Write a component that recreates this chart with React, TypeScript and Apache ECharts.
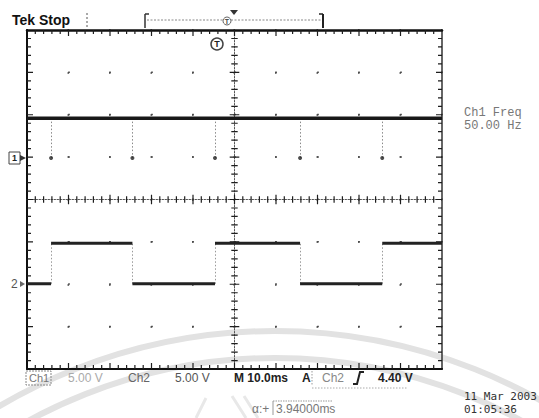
import React, { useEffect, useRef } from "react";
import * as echarts from "echarts";

// Horizontal scale: time in ms relative to screen centre, 10 ms / div, 5 minor ticks / div
const timeMin = -50;
const timeMax = 50;
const timeStep = 10;
const timeMinorStep = 2;
// Vertical scale: screen divisions
const divMin = -4;
const divMax = 4;
const divStep = 1;
const divMinorStep = 0.2;

// Ch1: flat trace with narrow negative pulses
const ch1Level = 1.92;
const ch1SpikeLevel = 0.98;
// Edge / pulse times (ms)
const edgeTimes = [-44.2, -24.6, -4.7, 15.8, 35.6];
// Ch2: square wave levels for each segment between edges
const ch2Low = -1.99;
const ch2High = -1.03;
const ch2SegmentLevels = [ch2Low, ch2High, ch2Low, ch2High, ch2Low, ch2High];

// Readout texts
const titleText = "Tek Stop";
const freqLabel = "Ch1 Freq";
const freqValue = "50.00 Hz";
const ch1Scale = "5.00 V";
const ch2Scale = "5.00 V";
const timebase = "M 10.0ms";
const trigLevel = "4.40 V";
const cursorLabel = "α:+";
const cursorValue = "3.94000ms";
const dateText = "11 Mar 2003";
const timeText = "01:05:36";

const ch1Data: any[] = [
  [timeMin, ch1Level],
  [timeMax, ch1Level],
];
const bounds = [timeMin, ...edgeTimes, timeMax];
const ch2Data: any[] = [];
ch2SegmentLevels.forEach((lv, i) => {
  ch2Data.push([bounds[i], lv], [bounds[i + 1], lv]);
  if (i < ch2SegmentLevels.length - 1) ch2Data.push([bounds[i + 1], "-"]);
});
const spikeDots = edgeTimes.map((t) => [t, ch1SpikeLevel]);

// graticule ruling (scope screen) — tick lengths in axis units
const GRID = { left: 27, top: 30, width: 415, height: 339 };
const pxPerMs = GRID.width / (timeMax - timeMin);
const pxPerDiv = GRID.height / (divMax - divMin);
const rulingData: any[] = [];
const addSeg = (a: number[], b: number[]) => {
  rulingData.push(a, b, [a[0], "-"]);
};
for (let i = 1; i < Math.round((timeMax - timeMin) / timeMinorStep); i++) {
  const v = timeMin + i * timeMinorStep;
  const L = (i % 5 === 0 ? 6 : 4) / pxPerDiv;
  addSeg([v, divMax], [v, divMax - L]);
  addSeg([v, divMin], [v, divMin + L]);
  addSeg([v, -L * 0.8], [v, L * 0.8]);
}
for (let i = 1; i < Math.round((divMax - divMin) / divMinorStep); i++) {
  const v = +(divMin + i * divMinorStep).toFixed(2);
  const L = (i % 5 === 0 ? 6 : 4) / pxPerMs;
  addSeg([timeMin, v], [timeMin + L, v]);
  addSeg([timeMax, v], [timeMax - L, v]);
  addSeg([-L * 0.8, v], [L * 0.8, v]);
}

const borderLine = { color: "#111", width: 2 };
const centerLine = { color: "#555", width: 1, type: [1.5, 1.5] as any };

function axis(min: number, max: number, interval: number, position: string, opts: { line: any; onZero?: boolean; split?: any }) {
  return {
    type: "value",
    min,
    max,
    interval,
    position,
    axisLine: { show: true, onZero: !!opts.onZero, onZeroAxisIndex: 0, lineStyle: opts.line },
    axisTick: { show: false },
    axisLabel: { show: false },
    splitLine: opts.split ? { show: true, lineStyle: opts.split } : { show: false },
  };
}

const txt = (text: string, x: number, y: number, font: string, fill: string, extra: any = {}) => ({
  type: "text",
  x,
  y,
  z: 20,
  silent: true,
  style: { text, font, fill, verticalAlign: "middle", textVerticalAlign: "middle", ...extra },
});
const ln = (x1: number, y1: number, x2: number, y2: number, stroke: string, lineWidth = 1, lineDash?: number[]) => ({
  type: "line",
  z: 20,
  silent: true,
  shape: { x1, y1, x2, y2 },
  style: { stroke, lineWidth, lineDash },
});

const graphics: any[] = [
  // watermark arcs
  { type: "arc", z: -5, silent: true, shape: { cx: 275, cy: 873, r: 542, startAngle: Math.PI, endAngle: Math.PI * 2 }, style: { stroke: "#e2e2e2", lineWidth: 6, fill: "none" } },
  { type: "arc", z: -5, silent: true, shape: { cx: 275, cy: 873, r: 515, startAngle: Math.PI, endAngle: Math.PI * 2 }, style: { stroke: "#e2e2e2", lineWidth: 6, fill: "none" } },
  { type: "line", z: -5, silent: true, shape: { x1: 196, y1: 418, x2: 206, y2: 398 }, style: { stroke: "#e8e8e8", lineWidth: 3 } },
  { type: "line", z: -5, silent: true, shape: { x1: 232, y1: 396, x2: 246, y2: 418 }, style: { stroke: "#e8e8e8", lineWidth: 3 } },
  { type: "line", z: -5, silent: true, shape: { x1: 244, y1: 396, x2: 258, y2: 418 }, style: { stroke: "#e8e8e8", lineWidth: 3 } },

  // header
  txt(titleText, 12, 20, 'bold 14px "Liberation Sans"', "#111"),
  ln(87, 13, 87, 29, "#555", 1, [2, 2]),
  ln(145, 14, 145, 28, "#333", 1.5),
  ln(145, 14, 149, 14, "#333", 1.5),
  ln(147, 20, 322, 20, "#888", 1, [2, 1.5]),
  ln(323, 14, 323, 28, "#222", 2),
  ln(319, 14, 323, 14, "#222", 1.5),
  { type: "circle", z: 20, silent: true, shape: { cx: 227, cy: 21, r: 4 }, style: { stroke: "#666", lineWidth: 1, fill: "#fff" } },
  txt("T", 227, 21, 'bold 7px "Liberation Sans"', "#444", { align: "center", textAlign: "center" }),
  { type: "polygon", z: 20, silent: true, shape: { points: [[230, 10], [238, 10], [234, 15]] }, style: { fill: "#333" } },
  { type: "circle", z: 20, silent: true, shape: { cx: 217, cy: 44, r: 6 }, style: { stroke: "#444", lineWidth: 1.5, fill: "#fff" } },
  txt("T", 217, 44, 'bold 9px "Liberation Sans"', "#222", { align: "center", textAlign: "center" }),

  // channel markers
  { type: "rect", z: 20, silent: true, shape: { x: 9, y: 152, width: 11, height: 12 }, style: { stroke: "#444", lineWidth: 1, fill: "#fff" } },
  txt("1", 14.5, 158, 'bold 9px "Liberation Sans"', "#222", { align: "center", textAlign: "center" }),
  { type: "polygon", z: 20, silent: true, shape: { points: [[20, 155], [26, 158], [20, 161]] }, style: { fill: "#333" } },
  txt("2", 11, 284, '12px "Liberation Sans"', "#555"),
  { type: "polygon", z: 20, silent: true, shape: { points: [[20, 281], [25, 284], [20, 287]] }, style: { fill: "#666" } },

  // right readout
  txt(freqLabel, 464, 113, '12px "Liberation Mono"', "#777"),
  txt(freqValue, 464, 126, '12px "Liberation Mono"', "#777"),

  // bottom readout
  { type: "rect", z: 20, silent: true, shape: { x: 26, y: 371, width: 25, height: 14 }, style: { stroke: "#888", lineWidth: 1, lineDash: [2, 1], fill: "none" } },
  txt("Ch1", 29, 378, '11px "Liberation Sans"', "#777"),
  txt(ch1Scale, 68, 378, '12px "Liberation Sans"', "#aaa"),
  txt("Ch2", 128, 378, '12px "Liberation Sans"', "#666"),
  txt(ch2Scale, 175, 378, '12px "Liberation Sans"', "#555"),
  txt(timebase, 234, 378, 'bold 12px "Liberation Sans"', "#222"),
  txt("A", 302, 378, 'bold 12px "Liberation Sans"', "#222"),
  ln(312, 371, 312, 386, "#999", 1, [1.5, 1.5]),
  txt("Ch2", 322, 378, '12px "Liberation Sans"', "#888"),
  { type: "polyline", z: 20, silent: true, shape: { points: [[353, 384], [357, 384], [360, 372], [364, 372]] }, style: { stroke: "#222", lineWidth: 2, fill: "none" } },
  txt(trigLevel, 378, 378, 'bold 12px "Liberation Sans"', "#222"),
  ln(312, 388, 408, 388, "#aaa", 1, [1.5, 1.5]),

  txt(cursorLabel, 252, 409, '12px "Liberation Sans"', "#777"),
  ln(273, 401, 332, 401, "#999", 1, [1.5, 1]),
  ln(273, 401, 273, 415, "#999", 1),
  txt(cursorValue, 276, 409, '12px "Liberation Sans"', "#777"),

  txt(dateText, 464, 396, '11px "DejaVu Sans Mono"', "#333"),
  txt(timeText, 464, 409, '11px "DejaVu Sans Mono"', "#333"),
];

const dotsX = { color: "#444", width: 1.6, type: [1.6, 40.775], dashOffset: 0.8 };
const dotsY = { color: "#444", width: 1.6, type: [1.6, 39.9], dashOffset: 0.8 };

const option: any = {
  animation: false,
  backgroundColor: "#fff",
  grid: { ...GRID, show: false },
  xAxis: [
    axis(timeMin, timeMax, timeStep, "bottom", { line: borderLine, split: dotsX }),
    axis(timeMin, timeMax, timeStep, "top", { line: { color: "#111", width: 2.5 } }),
    axis(timeMin, timeMax, timeStep, "bottom", { line: centerLine, onZero: true }),
  ],
  yAxis: [
    axis(divMin, divMax, divStep, "left", { line: borderLine, split: dotsY }),
    axis(divMin, divMax, divStep, "right", { line: { color: "#333", width: 1.5 } }),
    axis(divMin, divMax, divStep, "left", { line: centerLine, onZero: true }),
  ],
  series: [
    {
      name: "ruling",
      type: "line",
      data: rulingData,
      showSymbol: false,
      connectNulls: false,
      silent: true,
      clip: false,
      z: 3,
      lineStyle: { color: "#1e1e1e", width: 1.2 },
    },
    {
      name: "Ch1",
      type: "line",
      data: ch1Data,
      showSymbol: false,
      silent: true,
      z: 5,
      lineStyle: { color: "#181818", width: 3.5 },
      markLine: {
        silent: true,
        symbol: ["none", "none"],
        label: { show: false },
        lineStyle: { type: [1.5, 2], color: "#888", width: 1 },
        data: edgeTimes.map((t) => [{ coord: [t, ch1Level] }, { coord: [t, ch1SpikeLevel] }]),
      },
    },
    {
      name: "Ch1 pulses",
      type: "scatter",
      data: spikeDots,
      symbolSize: 4,
      silent: true,
      z: 5,
      itemStyle: { color: "#222" },
    },
    {
      name: "Ch2",
      type: "line",
      data: ch2Data,
      showSymbol: false,
      connectNulls: false,
      silent: true,
      z: 5,
      lineStyle: { color: "#222", width: 3 },
      markLine: {
        silent: true,
        symbol: ["none", "none"],
        label: { show: false },
        lineStyle: { type: [1.5, 2], color: "#999", width: 1 },
        data: edgeTimes.map((t) => [{ coord: [t, ch2Low] }, { coord: [t, ch2High] }]),
      },
    },
  ],
  graphic: { elements: graphics },
};

export default function App() {
  const ref = useRef<HTMLDivElement>(null);
  useEffect(() => {
    const chart = echarts.init(ref.current!, null, { renderer: "svg" });
    chart.setOption(option);
    return () => chart.dispose();
  }, []);
  return (
    <div
      ref={ref}
      style={{ position: "fixed", left: 0, top: 0, width: 539, height: 418, background: "#fff" }}
    />
  );
}
